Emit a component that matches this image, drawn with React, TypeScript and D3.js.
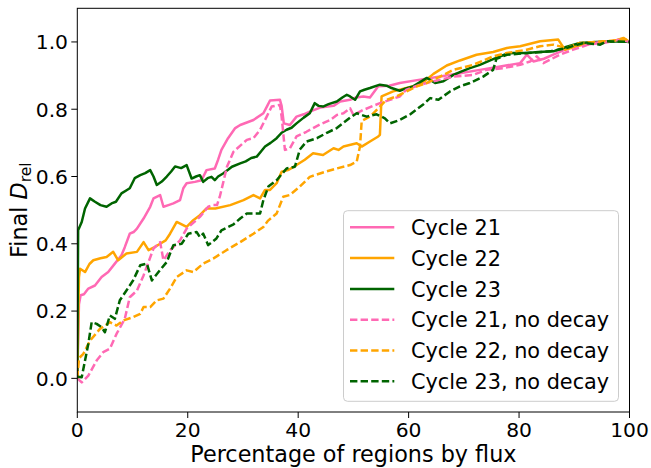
import React from "react";
import * as d3 from "d3";

type Pt = [number, number];

const cycle21: Pt[] = [[0,0],[0.3,0.22],[0.6,0.247],[1.2,0.25],[2,0.267],[3.2,0.276],[4.4,0.301],[5.6,0.316],[6.8,0.341],[8,0.366],[8.6,0.39],[9.5,0.43],[10.2,0.435],[10.8,0.445],[12,0.475],[13.2,0.51],[13.8,0.535],[15,0.545],[15.6,0.51],[16.5,0.515],[17.4,0.52],[18.6,0.53],[19.2,0.565],[19.8,0.58],[21.3,0.584],[22.5,0.589],[23.4,0.619],[24.9,0.624],[25.5,0.65],[26.1,0.679],[27.3,0.714],[28.6,0.744],[29.5,0.753],[31.9,0.768],[33.7,0.788],[34.4,0.81],[34.9,0.826],[36.7,0.828],[37.0,0.81],[37.4,0.758],[38.5,0.753],[39.7,0.778],[41,0.785],[42.1,0.793],[44,0.805],[46.4,0.81],[47.6,0.823],[49.4,0.828],[50.5,0.835],[51.8,0.838],[53,0.835],[54.5,0.868],[56.5,0.87],[58.4,0.878],[62.1,0.888],[65.7,0.897],[69.3,0.907],[72.9,0.917],[76.6,0.927],[80.2,0.937],[81.4,0.962],[82.6,0.942],[84.5,0.95],[86.2,0.962],[88,0.975],[89.8,0.987],[92.5,0.993],[95.3,0.997],[98.3,1.007],[100,1.0]];

const cycle22: Pt[] = [[0,0],[0.3,0.3],[0.5,0.326],[1.4,0.316],[2.2,0.34],[2.9,0.351],[4.2,0.357],[5.3,0.361],[6.5,0.376],[7.4,0.351],[8.9,0.371],[10.8,0.376],[12,0.405],[12.9,0.381],[14,0.39],[15,0.4],[16,0.41],[16.8,0.43],[18,0.465],[19.8,0.45],[21,0.47],[22.2,0.485],[23.4,0.505],[25,0.505],[27.7,0.515],[30.1,0.53],[31.9,0.545],[33.1,0.535],[34,0.56],[34.9,0.56],[36.1,0.58],[37,0.614],[38.3,0.62],[39.7,0.634],[41.2,0.65],[42.7,0.669],[44.5,0.664],[46.4,0.684],[47.3,0.679],[48.2,0.689],[50.6,0.699],[51.5,0.689],[53,0.704],[54.5,0.719],[54.8,0.724],[55.1,0.838],[57.2,0.853],[60.3,0.866],[62.1,0.873],[64.5,0.905],[66.9,0.93],[69.3,0.945],[72.3,0.962],[75.3,0.97],[77.8,0.982],[80.2,0.987],[83.8,1.002],[87.1,1.007],[88.3,0.977],[90.4,0.987],[92.2,0.997],[97.1,1.002],[98.9,1.012],[100,1.0]];

const cycle23: Pt[] = [[0,0],[0.15,0.44],[0.8,0.465],[1.4,0.505],[2.3,0.535],[3.2,0.525],[4.2,0.515],[5.3,0.51],[6.2,0.52],[7.0,0.525],[8.0,0.55],[9.0,0.56],[9.5,0.565],[10.4,0.595],[11.4,0.604],[12.3,0.61],[13.2,0.619],[13.8,0.6],[14.4,0.575],[15.3,0.585],[16.2,0.6],[17.0,0.615],[17.7,0.63],[18.8,0.625],[19.8,0.634],[20.7,0.594],[21.5,0.6],[22.2,0.604],[22.8,0.584],[23.6,0.595],[24.3,0.599],[24.9,0.589],[25.5,0.6],[26.4,0.609],[27.3,0.62],[28.0,0.629],[29.5,0.639],[30.5,0.645],[31.5,0.655],[32.5,0.659],[33.3,0.675],[34,0.689],[35,0.7],[36.1,0.714],[37,0.73],[37.9,0.739],[38.8,0.745],[39.7,0.758],[41,0.775],[42.1,0.788],[43,0.818],[43.7,0.81],[44.5,0.808],[45.5,0.815],[47,0.823],[48,0.835],[48.8,0.843],[49.4,0.838],[50.3,0.828],[51.2,0.853],[52,0.858],[53,0.863],[54.8,0.873],[56,0.87],[56.9,0.863],[58.4,0.855],[59.5,0.862],[60.8,0.868],[62,0.88],[63.3,0.893],[64.8,0.878],[66.3,0.883],[68.1,0.902],[69.5,0.912],[71.1,0.922],[72.9,0.932],[75.3,0.949],[77.8,0.965],[79,0.967],[81.4,0.967],[83.5,0.97],[86.2,0.972],[88.5,0.985],[91,0.997],[94,1.0],[98.3,1.002],[100,1.0]];

const cycle21NoDecay: Pt[] = [[0,0],[0.8,-0.012],[2,0.008],[3.5,0.053],[4.7,0.078],[5.9,0.088],[7.1,0.132],[8.6,0.177],[9.5,0.241],[10.8,0.261],[12,0.306],[13.8,0.386],[15,0.405],[15.6,0.351],[16.8,0.381],[18.6,0.41],[19.8,0.445],[22.2,0.48],[23.7,0.51],[24.6,0.515],[25.3,0.515],[25.8,0.54],[26.1,0.56],[27.1,0.629],[28.3,0.674],[30.7,0.709],[31.9,0.714],[33.1,0.739],[34.3,0.778],[35.2,0.808],[36.7,0.813],[37.0,0.778],[37.6,0.679],[38.5,0.684],[39.7,0.719],[41.5,0.733],[44,0.755],[45.8,0.768],[47,0.783],[48.2,0.788],[49.4,0.803],[50,0.783],[51.8,0.798],[54.8,0.818],[58.4,0.838],[59.6,0.858],[62.1,0.873],[64.5,0.883],[68.1,0.897],[71.7,0.902],[74.1,0.917],[77.1,0.922],[80.2,0.932],[82,0.942],[83.2,0.957],[84.4,0.937],[85.6,0.947],[87.4,0.962],[89.8,0.977],[93.4,0.997],[96.5,1.002],[98.6,1.007],[100,1.0]];

const cycle22NoDecay: Pt[] = [[0,0],[0.3,0.06],[1.1,0.073],[2.3,0.112],[4.1,0.147],[5.9,0.167],[7.1,0.157],[8.3,0.172],[10.1,0.182],[11.4,0.192],[12,0.212],[13.2,0.212],[14.4,0.232],[15.6,0.237],[16.8,0.267],[18,0.301],[19.8,0.321],[21,0.316],[22.8,0.341],[24.6,0.356],[27,0.381],[29.5,0.405],[31.9,0.43],[33.7,0.45],[34.5,0.468],[36.1,0.49],[37.3,0.54],[38.5,0.545],[40.3,0.57],[42.1,0.599],[44.5,0.612],[47,0.624],[49.4,0.634],[50.6,0.644],[51.2,0.69],[51.5,0.765],[53,0.778],[54.8,0.808],[56,0.828],[57.8,0.838],[61.5,0.868],[63.3,0.878],[65.7,0.897],[68.1,0.917],[71.7,0.932],[75.3,0.957],[77.8,0.967],[81.4,0.977],[83.8,0.987],[86.2,0.992],[88.6,0.982],[91,0.997],[95.3,1.002],[99.5,1.007],[100,1.0]];

const cycle23NoDecay: Pt[] = [[0,0.005],[0.8,0.003],[1.4,0.053],[2,0.103],[2.6,0.167],[3.5,0.162],[4.4,0.152],[5,0.137],[5.9,0.187],[6.8,0.177],[7.7,0.232],[8.9,0.261],[10.1,0.291],[11.4,0.336],[12.6,0.341],[13.5,0.291],[14.7,0.316],[16.2,0.346],[17.4,0.396],[18.9,0.4],[20.1,0.43],[21.6,0.435],[22.2,0.42],[22.8,0.43],[23.7,0.396],[25.2,0.416],[26.1,0.44],[28.3,0.458],[29.5,0.475],[30.7,0.49],[33.1,0.49],[33.7,0.53],[34.6,0.57],[36.1,0.589],[37.9,0.624],[39.4,0.629],[40.3,0.68],[41.5,0.704],[43.4,0.714],[45.2,0.73],[47,0.744],[49.4,0.775],[50.6,0.788],[52.4,0.778],[54.2,0.785],[55.7,0.773],[56.6,0.758],[58.4,0.768],[60.3,0.785],[62.7,0.815],[63.9,0.833],[65.4,0.828],[67.5,0.853],[69.3,0.868],[71.1,0.878],[73.5,0.897],[75.3,0.917],[75.9,0.95],[77.8,0.962],[81.4,0.967],[85.6,0.972],[88.6,0.982],[91.6,0.997],[94.7,0.992],[95.9,1.002],[100,1.0]];

const seriesLabels = ["Cycle 21", "Cycle 22", "Cycle 23", "Cycle 21, no decay", "Cycle 22, no decay", "Cycle 23, no decay"];
const seriesData = [cycle21, cycle22, cycle23, cycle21NoDecay, cycle22NoDecay, cycle23NoDecay];
const seriesColors = ["#ff69b4", "#ffa500", "#006400", "#ff69b4", "#ffa500", "#006400"];
const seriesDashed = [false, false, false, true, true, true];

const xTicks = [0, 20, 40, 60, 80, 100];
const yTicks = [0, 0.2, 0.4, 0.6, 0.8, 1.0];

const W = 651, H = 468;
const L = 77.3, R = 629.5, T = 8.3, B = 412;
const FONT = "DejaVu Sans, sans-serif";

export default function App() {
  const x = d3.scaleLinear().domain([0, 100]).range([L, R]);
  const y = d3.scaleLinear().domain([-0.1, 1.1]).range([B, T]);
  const line = d3.line<Pt>().x(d => x(d[0])).y(d => y(d[1]));
  const lw = 2.5;
  const legX = 343.5, legY = 210.7, legW = 275, legH = 190.6;
  const rowY0 = 227.3, rowDy = 30.8;
  return (
    <svg width={W} height={H} style={{ position: "absolute", left: 0, top: 0, background: "#fff" }} fontFamily={FONT}>
      <defs>
        <clipPath id="plotclip"><rect x={L} y={T} width={R - L} height={B - T} /></clipPath>
      </defs>
      <rect x={0} y={0} width={W} height={H} fill="#fff" />
      <g clipPath="url(#plotclip)">
        {seriesData.map((d, i) => (
          <path key={i} d={line(d) || ""} fill="none" stroke={seriesColors[i]} strokeWidth={lw}
            strokeDasharray={seriesDashed[i] ? "7.4,3.2" : undefined} strokeLinejoin="round" />
        ))}
      </g>
      <rect x={L} y={T} width={R - L} height={B - T} fill="none" stroke="#000" strokeWidth={1} />
      {xTicks.map(t => (
        <g key={"x" + t}>
          <line x1={x(t)} x2={x(t)} y1={B} y2={B + 6} stroke="#000" strokeWidth={1} />
          <text x={x(t)} y={437} fontSize={20.3} textAnchor="middle" fill="#000">{t}</text>
        </g>
      ))}
      {yTicks.map(t => (
        <g key={"y" + t}>
          <line x1={L - 6} x2={L} y1={y(t)} y2={y(t)} stroke="#000" strokeWidth={1} />
          <text x={68} y={y(t) + 7.4} fontSize={20.3} textAnchor="end" fill="#000">{d3.format(".1f")(t)}</text>
        </g>
      ))}
      <text x={(L + R) / 2} y={462} fontSize={22.3} textAnchor="middle" fill="#000">Percentage of regions by flux</text>
      <text transform={`translate(26.5, ${(T + B) / 2}) rotate(-90)`} fontSize={22.3} textAnchor="middle" fill="#000">
        Final <tspan fontStyle="italic">D</tspan><tspan fontSize={15.6} dy={4.5}>rel</tspan>
      </text>
      <rect x={legX} y={legY} width={legW} height={legH} rx={4} fill="#fff" fillOpacity={0.8} stroke="#cccccc" strokeWidth={1} />
      {seriesLabels.map((lab, i) => (
        <g key={lab}>
          <line x1={350} x2={394.3} y1={rowY0 + i * rowDy} y2={rowY0 + i * rowDy} stroke={seriesColors[i]} strokeWidth={lw}
            strokeDasharray={seriesDashed[i] ? "7.4,3.2" : undefined} />
          <text x={411} y={rowY0 + i * rowDy + 7.6} fontSize={20.8} fill="#000">{lab}</text>
        </g>
      ))}
    </svg>
  );
}
